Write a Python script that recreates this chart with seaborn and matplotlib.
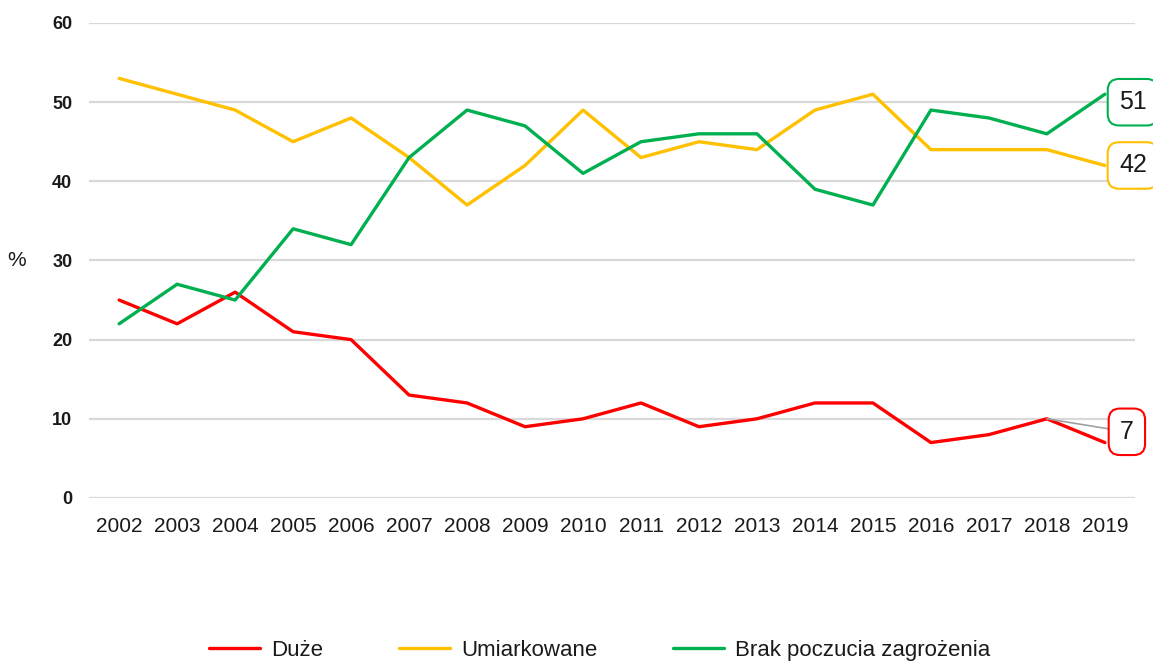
import pandas as pd
import seaborn as sns
import matplotlib.pyplot as plt

# Data
years = list(range(2002, 2020))
duze = [25, 22, 26, 21, 20, 13, 12, 9, 10, 12, 9, 10, 12, 12, 7, 8, 10, 7]
umiarkowane = [53, 51, 49, 45, 48, 43, 37, 42, 49, 43, 45, 44, 49, 51, 44, 44, 44, 42]
brak = [22, 27, 25, 34, 32, 43, 49, 47, 41, 45, 46, 46, 39, 37, 49, 48, 46, 51]
series_names = ['Duże', 'Umiarkowane', 'Brak poczucia zagrożenia']
colors = ['#FF0000', '#FFC000', '#00B050']

df = pd.DataFrame({'rok': [str(y) for y in years] * 3,
                   'wartosc': duze + umiarkowane + brak,
                   'seria': [n for n in series_names for _ in years]})

sns.set_style('white')
plt.rcParams['font.family'] = ['Liberation Sans', 'DejaVu Sans']
plt.rcParams['text.color'] = '#1a1a1a'

fig = plt.figure(figsize=(11.53, 6.66), dpi=100)
ax = fig.add_axes([0.0772, 0.2523, 0.9072, 0.7132])

sns.lineplot(data=df, x='rok', y='wartosc', hue='seria', palette=colors,
             linewidth=2.4, ax=ax, sort=False)

ax.set_ylim(0, 60)
ax.set_xlim(-0.52, 17.52)
ax.set_yticks(range(0, 61, 10))
ax.grid(axis='y', color='#D9D9D9', linewidth=1.6)
ax.set_axisbelow(True)
for s in ax.spines.values():
    s.set_visible(False)
ax.tick_params(axis='y', length=0, pad=12, labelsize=13, labelcolor='#1a1a1a')
ax.tick_params(axis='x', length=0, pad=14, labelsize=15, labelcolor='#1a1a1a')
for t in ax.get_yticklabels():
    t.set_fontweight('bold')
ax.set_xlabel('')
ax.set_ylabel('%', rotation=0, fontsize=15, labelpad=26, va='center', color='#1a1a1a')

# end-value callouts
box = dict(boxstyle='round,pad=0.45', fc='white', lw=1.5)
ax.annotate(str(brak[-1]), xy=(17, brak[-1]), xytext=(28, -8), textcoords='offset pixels',
            ha='center', va='center', fontsize=18, annotation_clip=False,
            bbox=dict(box, ec=colors[2]))
ax.annotate(str(umiarkowane[-1]), xy=(17, umiarkowane[-1]), xytext=(28, 0),
            textcoords='offset pixels', ha='center', va='center', fontsize=18,
            annotation_clip=False, bbox=dict(box, ec=colors[1]))
ax.annotate(str(duze[-1]), xy=(16, duze[-2]), xytext=(80, -13), textcoords='offset pixels',
            ha='center', va='center', fontsize=18, annotation_clip=False,
            bbox=dict(box, ec=colors[0]),
            arrowprops=dict(arrowstyle='-', color='#A0A0A0', lw=1.2, shrinkA=0, shrinkB=0))

handles, labels = ax.get_legend_handles_labels()
ax.legend_.remove()
fig.legend(handles, labels, loc='center', bbox_to_anchor=(0.52, 0.024), ncol=3,
           frameon=False, fontsize=16, handlelength=2.3, columnspacing=3.4,
           handletextpad=0.5)

fig.savefig('out.png', dpi=100)
